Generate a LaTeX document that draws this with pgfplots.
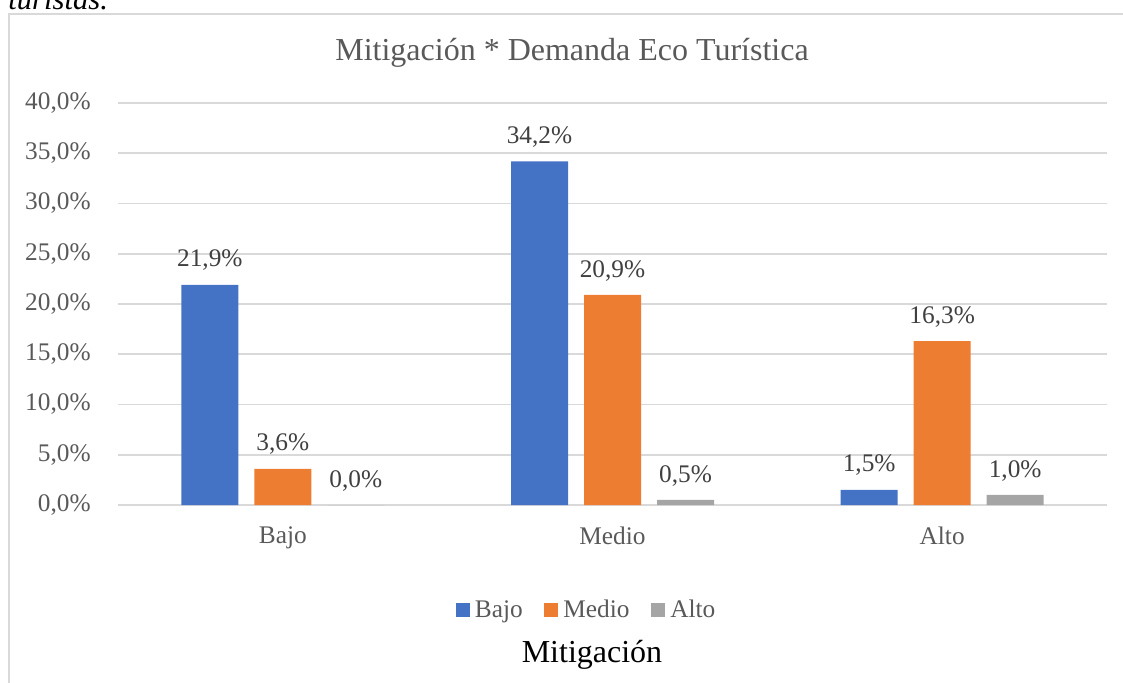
\documentclass[border=0pt]{standalone}
\usepackage{fontspec}
\setmainfont{Liberation Serif}
\usepackage{pgfplots}
\pgfplotsset{compat=1.18}
\definecolor{cblue}{HTML}{4472C4}
\definecolor{corange}{HTML}{ED7D31}
\definecolor{cgray}{HTML}{A5A5A5}
\definecolor{ctext}{HTML}{595959}
\definecolor{clabel}{HTML}{404040}
\definecolor{cgrid}{HTML}{D9D9D9}
\newcommand{\tickfont}{\fontsize{19}{23}\selectfont}
\begin{document}
\begin{tikzpicture}
\useasboundingbox (0,0) rectangle (842.25pt,511.5pt);
\clip (0,0) rectangle (842.25pt,511.5pt);
% caption text cut off by the top edge
\node[anchor=base west, inner sep=0pt, font=\fontsize{23}{27}\selectfont\itshape] at (6pt,504pt) {turistas.};
% chart frame
\draw[cgrid, line width=1.2pt] (6.75pt,501pt) rectangle (860pt,-10pt);
\begin{axis}[
    at={(88.5pt,132.75pt)}, anchor=south west,
    scale only axis,
    width=741.75pt, height=301.5pt,
    ybar, bar width=42.75pt,
    xmin=-0.5, xmax=2.5,
    ymin=0, ymax=40,
    xtick={0,1,2},
    xticklabels={Bajo,Medio,Alto},
    ytick={0,5,...,40},
    yticklabel={\pgfmathprintnumber[fixed,fixed zerofill,precision=1,use comma]{\tick}\%},
    /pgf/number format/assume math mode=true,
    ticklabel style={font=\tickfont, text=ctext},
    xticklabel style={yshift=-13pt},
    yticklabel style={xshift=-17pt},
    major tick length=0pt,
    axis line style={draw=none},
    ymajorgrids, grid style={cgrid, line width=1.2pt},
    nodes near coords={\pgfmathprintnumber[fixed,fixed zerofill,precision=1,use comma]{\pgfplotspointmeta}\%},
    nodes near coords style={font=\tickfont, text=clabel, yshift=7pt},
    legend columns=3,
    legend style={draw=none, at={(0.474,-0.261)}, anchor=center, font=\tickfont, text=ctext,
        /tikz/every odd column/.append style={column sep=2pt},
        /tikz/every even column/.append style={column sep=14pt}},
    legend image code/.code={\fill[#1] (0pt,-5.25pt) rectangle (10.5pt,5.25pt);},
]
\addplot[fill=cblue, draw=none, bar shift=-54.75pt] coordinates {(0,21.9) (1,34.2) (2,1.5)};
\addplot[fill=corange, draw=none, bar shift=0pt] coordinates {(0,3.6) (1,20.9) (2,16.3)};
\addplot[fill=cgray, draw=none, bar shift=54.75pt] coordinates {(0,0.0) (1,0.5) (2,1.0)};
\legend{Bajo,Medio,Alto}
\end{axis}
\node[font=\fontsize{24}{28}\selectfont, text=ctext] at (429pt,471.75pt) {Mitigación * Demanda Eco Turística};
\node[font=\fontsize{24}{28}\selectfont] at (444pt,20.25pt) {Mitigación};
\end{tikzpicture}
\end{document}
